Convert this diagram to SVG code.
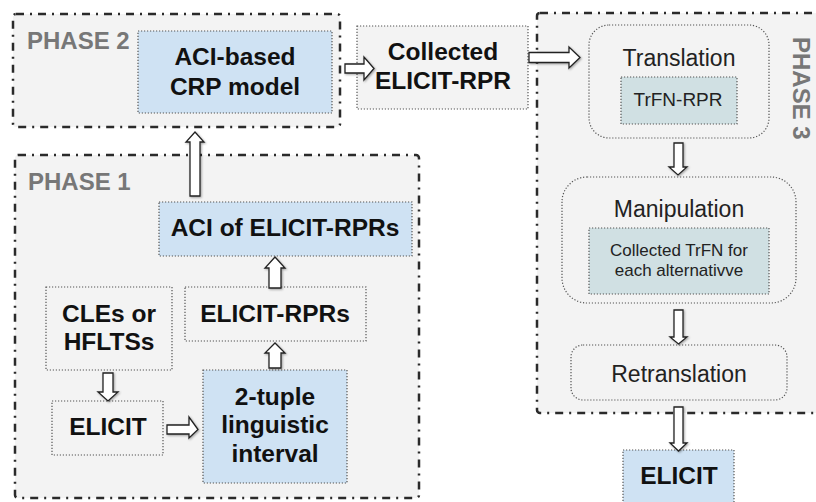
<svg xmlns="http://www.w3.org/2000/svg" width="816" height="502" viewBox="0 0 816 502">
<defs>
<filter id="sh" x="-20%" y="-20%" width="150%" height="150%">
<feDropShadow dx="1" dy="1" stdDeviation="0.8" flood-color="#000" flood-opacity="0.35"/>
</filter>
</defs>
<style>
.phase{fill:#f3f3f3;stroke:#2a2a2a;stroke-width:2.5;stroke-dasharray:8 6 2 6}
.dot{stroke:#555;stroke-width:1.2;stroke-dasharray:1.2 1.8}
.blue{fill:#cfe2f3}
.gray{fill:#f3f3f3}
.teal{fill:#d0e0e3}
.plabel{font-family:"Liberation Sans",Arial,sans-serif;font-weight:bold;font-size:24px;fill:#777}
.b{font-family:"Liberation Sans",Arial,sans-serif;font-weight:bold;font-size:24.5px;fill:#111;text-anchor:middle}
.n{font-family:"Liberation Sans",Arial,sans-serif;font-size:23px;fill:#222;text-anchor:middle}
.s{font-family:"Liberation Sans",Arial,sans-serif;font-size:17px;fill:#222;text-anchor:middle}
.arr{fill:#fff;stroke:#222;stroke-width:1.3;stroke-linejoin:miter;filter:url(#sh)}
</style>

<g id="phase2">
<rect class="phase" x="13" y="14" width="327" height="113" rx="3"/>
<text class="plabel" x="27" y="49">PHASE 2</text>
</g>
<g id="phase1">
<rect class="phase" x="15" y="155" width="404" height="343" rx="3"/>
<text class="plabel" x="28" y="190">PHASE 1</text>
</g>
<g id="phase3">
<rect class="phase" x="537" y="13" width="300" height="400" rx="3"/>
<text class="plabel" transform="translate(793,37) rotate(90)">PHASE 3</text>
</g>

<g id="aci-crp">
<rect class="blue dot" x="138" y="31" width="194" height="82"/>
<text class="b" x="235" y="65">ACI-based</text>
<text class="b" x="235" y="95">CRP model</text>
</g>
<g id="collected">
<rect class="gray dot" x="357" y="26" width="171" height="83"/>
<text class="b" x="443" y="60">Collected</text>
<text class="b" x="443" y="89">ELICIT-RPR</text>
</g>
<g id="translation">
<rect class="gray dot" x="589" y="25" width="180" height="113" rx="20"/>
<text class="n" x="679" y="66">Translation</text>
<rect class="teal dot" x="621" y="77" width="116" height="47"/>
<text class="s" x="678" y="106" style="font-size:19px">TrFN-RPR</text>
</g>
<g id="manipulation">
<rect class="gray dot" x="562" y="177" width="234" height="126" rx="25"/>
<text class="n" x="679" y="217">Manipulation</text>
<rect class="teal dot" x="589" y="228" width="180" height="66"/>
<text class="s" x="679" y="256">Collected TrFN for</text>
<text class="s" x="679" y="276">each alternativve</text>
</g>
<g id="retranslation">
<rect class="gray dot" x="571" y="345" width="216" height="55" rx="12"/>
<text class="n" x="679" y="382">Retranslation</text>
</g>
<g id="elicit-out">
<rect class="blue dot" x="623" y="450" width="111" height="60"/>
<text class="b" x="679" y="484">ELICIT</text>
</g>
<g id="aci-elicit">
<rect class="blue dot" x="159" y="202" width="253" height="54"/>
<text class="b" x="285" y="236">ACI of ELICIT-RPRs</text>
</g>
<g id="elicit-rprs">
<rect class="gray dot" x="185" y="287" width="181" height="54"/>
<text class="b" x="275" y="322">ELICIT-RPRs</text>
</g>
<g id="cles">
<rect class="gray dot" x="46" y="287" width="126" height="83"/>
<text class="b" x="109" y="322">CLEs or</text>
<text class="b" x="109" y="350">HFLTSs</text>
</g>
<g id="elicit-in">
<rect class="gray dot" x="52" y="401" width="111" height="54"/>
<text class="b" x="108" y="435">ELICIT</text>
</g>
<g id="two-tuple">
<rect class="blue dot" x="203" y="370" width="144" height="113"/>
<text class="b" x="275" y="405">2-tuple</text>
<text class="b" x="275" y="433">linguistic</text>
<text class="b" x="275" y="462">interval</text>
</g>

<g id="connectors">
<path class="arr" d="M345,64 H364 V57 L374,68.5 L364,80 V73 H345 Z"/>
<path class="arr" d="M529,52.5 H569 V47 L580,57.5 L569,68 V62.5 H529 Z"/>
<path class="arr" d="M190,196 V142 H186 L195,132 L204,142 H200 V196 Z"/>
<path class="arr" d="M269,288 V268 H265 L275,257 L285,268 H281 V288 Z"/>
<path class="arr" d="M269,368 V353 H265 L275,343 L285,353 H281 V368 Z"/>
<path class="arr" d="M103,373 V392 H98 L108,401 L118,392 H113 V373 Z"/>
<path class="arr" d="M167,425 H189 V417 L198,429.5 L189,438 V434 H167 Z"/>
<path class="arr" d="M674,143 V167 H669 L678,175 L687,167 H683 V143 Z"/>
<path class="arr" d="M674,310 V337 H670 L678.5,344 L687,337 H683 V310 Z"/>
<path class="arr" d="M674,407 V443 H670 L678.5,451 L687,443 H683 V407 Z"/>
</g>
</svg>
